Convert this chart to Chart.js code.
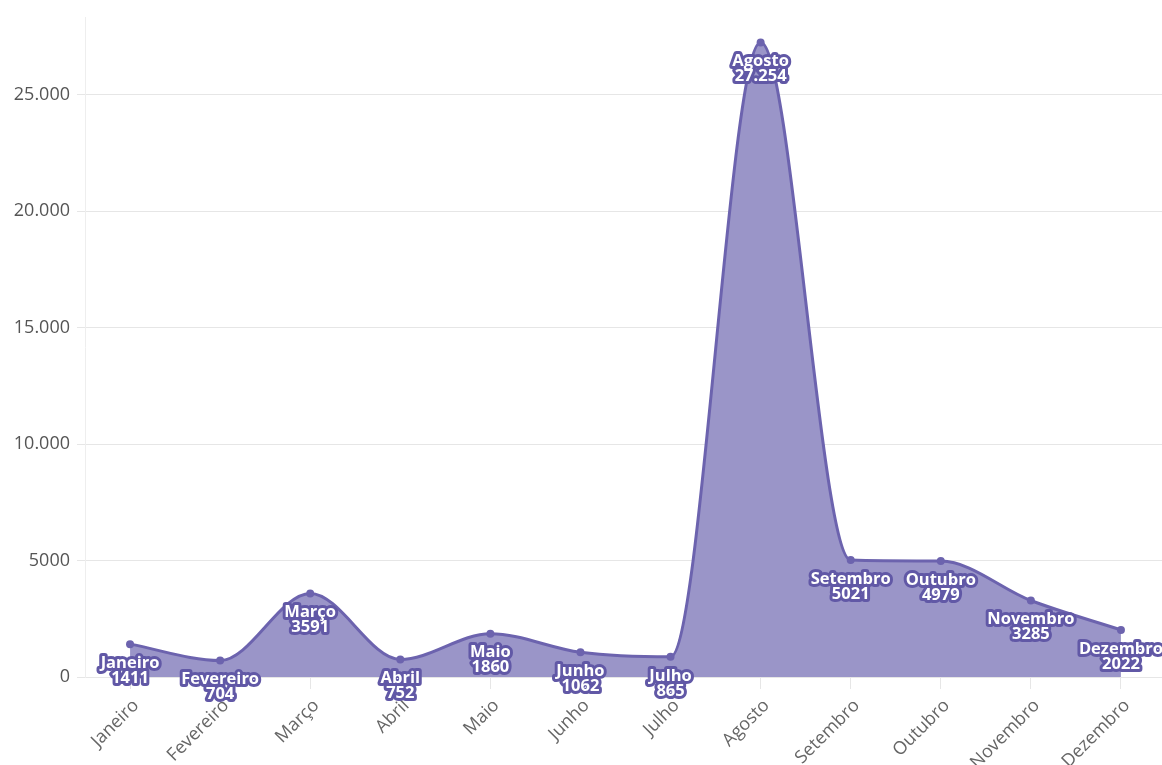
<!DOCTYPE html>
<html>
<head>
<meta charset="utf-8">
<script src="https://cdn.jsdelivr.net/npm/chart.js@4/dist/chart.umd.min.js"></script>
<style>
  html, body { margin: 0; padding: 0; background: #fff; overflow: hidden; }
  canvas { display: block; }
</style>
</head>
<body>
<canvas id="c" width="1170" height="765"></canvas>
<script>
const categories = ["Janeiro", "Fevereiro", "Março", "Abril", "Maio", "Junho", "Julho", "Agosto", "Setembro", "Outubro", "Novembro", "Dezembro"];
const values = [1411, 704, 3591, 752, 1860, 1062, 865, 27254, 5021, 4979, 3285, 2022];
const yTicks = [0, 5000, 10000, 15000, 20000, 25000];

function fmt(v) {
  if (Math.abs(v) >= 10000) {
    return String(v).replace(/\B(?=(\d{3})+(?!\d))/g, ".");
  }
  return String(v);
}

const LINE = '#6c63ae';
const FILL = '#9a95c8';
const OUTLINE = '#6158a6';

const dataLabels = {
  id: 'dataLabels',
  afterDatasetsDraw(chart) {
    const ctx = chart.ctx;
    const meta = chart.getDatasetMeta(0);
    ctx.save();
    ctx.font = 'bold 16.5px "Open Sans", sans-serif';
    ctx.textAlign = 'center';
    ctx.textBaseline = 'middle';
    ctx.lineJoin = 'round';
    meta.data.forEach((pt, i) => {
      const lines = [categories[i], fmt(values[i])];
      lines.forEach((t, k) => {
        const y = pt.y + 19 + k * 15;
        ctx.lineWidth = 6;
        ctx.strokeStyle = OUTLINE;
        ctx.strokeText(t, pt.x, y);
      });
      lines.forEach((t, k) => {
        const y = pt.y + 19 + k * 15;
        ctx.fillStyle = '#ffffff';
        ctx.fillText(t, pt.x, y);
      });
    });
    ctx.restore();
  }
};

new Chart(document.getElementById('c'), {
  type: 'line',
  data: {
    labels: categories,
    datasets: [{
      data: values,
      borderColor: LINE,
      backgroundColor: FILL,
      borderWidth: 3,
      fill: 'origin',
      cubicInterpolationMode: 'monotone',
      pointRadius: 4,
      pointBackgroundColor: LINE,
      pointBorderWidth: 0,
      clip: false
    }]
  },
  options: {
    responsive: false,
    animation: false,
    layout: { padding: { top: 15, left: 0, right: 0, bottom: 0 } },
    plugins: { legend: { display: false }, tooltip: { enabled: false } },
    scales: {
      x: {
        type: 'category',
        offset: true,
        afterFit(s) { s.height = 88; },
        grid: {
          offset: false,
          drawOnChartArea: false,
          drawTicks: true,
          tickLength: 12,
          color: '#e6e6e6'
        },
        border: { display: false },
        ticks: {
          maxRotation: 45,
          minRotation: 45,
          padding: 6,
          labelOffset: 6,
          color: '#666666',
          font: { family: '"Open Sans", sans-serif', size: 18 }
        }
      },
      y: {
        min: 0,
        max: 28310,
        afterFit(s) { s.width = 85; },
        afterBuildTicks(s) { s.ticks = yTicks.map(v => ({ value: v })); },
        grid: {
          color: '#e6e6e6',
          tickLength: 8,
          drawTicks: true
        },
        border: { display: true, color: '#eeeeee' },
        ticks: {
          padding: 7,
          color: '#555555',
          font: { family: '"Open Sans", sans-serif', size: 18 },
          callback: (v) => fmt(v)
        }
      }
    }
  },
  plugins: [dataLabels]
});
</script>
</body>
</html>
